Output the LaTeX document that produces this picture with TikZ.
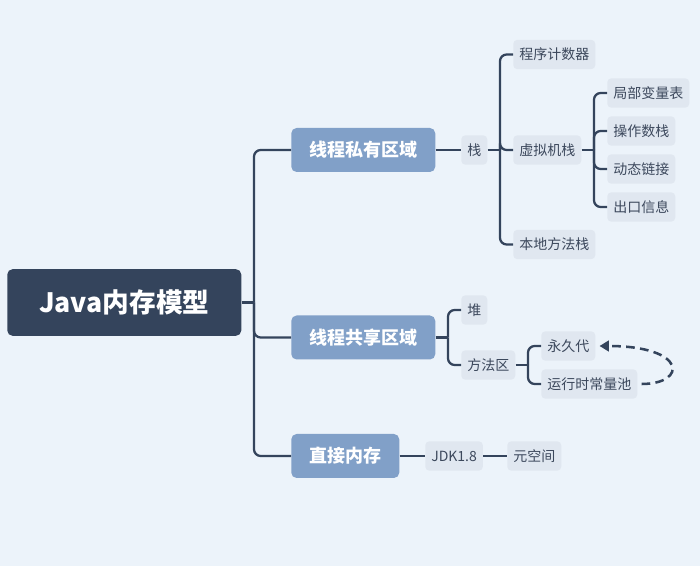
\documentclass[tikz,border=0pt]{standalone}
\usepackage{fontspec}
\setmainfont{Noto Sans CJK SC}
\usetikzlibrary{arrows.meta}

\definecolor{bgblue}{RGB}{236,243,250}
\definecolor{rootblue}{RGB}{52,68,92}
\definecolor{mainblue}{RGB}{129,160,200}
\definecolor{leafgray}{RGB}{224,231,240}
\definecolor{leaftext}{RGB}{60,72,92}

\begin{document}
\begin{tikzpicture}[x=0.75pt,y=0.75pt,yscale=-1,xscale=1,
	rootnode/.style={fill=rootblue,text=white,rounded corners=4pt,font=\fontsize{20}{24}\selectfont\bfseries,minimum height=50pt,minimum width=175.5pt},
	mainnode/.style={fill=mainblue,text=white,rounded corners=4pt,font=\fontsize{13.5}{16}\selectfont\bfseries,minimum height=33pt,inner xsep=13.5pt},
	leafnode/.style={fill=leafgray,text=leaftext,rounded corners=3pt,font=\fontsize{10.5}{12}\selectfont,minimum height=22pt,inner xsep=4.5pt},
	link/.style={draw=rootblue,line width=1.7pt,rounded corners=5pt},
	backlink/.style={draw=rootblue,line width=1.9pt,dash pattern=on 6.5pt off 4pt,-{Triangle[length=7pt,width=8pt]}}]
	%set diagram size 700 x 566
	\fill [bgblue] (0,0) rectangle (700,566);
	\useasboundingbox (0,0) rectangle (700,566);
	
	% Root
	\node [rootnode,anchor=west] (jmm) at (7,302.5) {Java内存模型};
	% Main branches
	\node [mainnode,anchor=west] (private) at (291,150) {线程私有区域};
	\node [mainnode,anchor=west] (shared) at (291,337.5) {线程共享区域};
	\node [mainnode,anchor=west] (direct) at (291,456) {直接内存};
	% Private area
	\node [leafnode,anchor=west] (stack) at (461,150) {栈};
	\node [leafnode,anchor=west] (pc) at (513,54.5) {程序计数器};
	\node [leafnode,anchor=west] (vmstack) at (513,150) {虚拟机栈};
	\node [leafnode,anchor=west] (native) at (513,244.5) {本地方法栈};
	\node [leafnode,anchor=west] (locals) at (607,93) {局部变量表};
	\node [leafnode,anchor=west] (operand) at (607,131) {操作数栈};
	\node [leafnode,anchor=west] (dynlink) at (607,169) {动态链接};
	\node [leafnode,anchor=west] (exit) at (607,207) {出口信息};
	% Shared area
	\node [leafnode,anchor=west] (heap) at (461,310) {堆};
	\node [leafnode,anchor=west] (method) at (461,365) {方法区};
	\node [leafnode,anchor=west] (permgen) at (541,346) {永久代};
	\node [leafnode,anchor=west] (pool) at (541,384) {运行时常量池};
	% Direct memory
	\node [leafnode,anchor=west] (jdk) at (425,456) {JDK1.8};
	\node [leafnode,anchor=west] (meta) at (507,456) {元空间};
	
	% Forks
	\coordinate (jmmfork) at (254,302.5);
	\coordinate (stackfork) at (500,150);
	\coordinate (vmfork) at (594,150);
	\coordinate (sharedfork) at (448,337.5);
	\coordinate (methodfork) at (528,365);
	
	% Connectors
	\draw [link] (jmm.east) -- (jmmfork);
	\draw [link] (jmmfork) |- (private.west);
	\draw [link] (jmmfork) |- (shared.west);
	\draw [link] (jmmfork) |- (direct.west);
	
	\draw [link] (private.east) -- (stack.west);
	\draw [link] (stack.east) -- (stackfork);
	\draw [link] (stackfork) |- (pc.west);
	\draw [link] (stackfork) |- (vmstack.west);
	\draw [link] (stackfork) |- (native.west);
	\draw [link] (vmstack.east) -- (vmfork);
	\draw [link] (vmfork) |- (locals.west);
	\draw [link] (vmfork) |- (operand.west);
	\draw [link] (vmfork) |- (dynlink.west);
	\draw [link] (vmfork) |- (exit.west);
	
	\draw [link] (shared.east) -- (sharedfork);
	\draw [link] (sharedfork) |- (heap.west);
	\draw [link] (sharedfork) |- (method.west);
	\draw [link] (method.east) -- (methodfork);
	\draw [link] (methodfork) |- (permgen.west);
	\draw [link] (methodfork) |- (pool.west);
	
	\draw [link] (direct.east) -- (jdk.west);
	\draw [link] (jdk.east) -- (meta.west);
	
	% Dashed back link
	\draw [backlink] ([xshift=3pt]pool.east) .. controls +(46,0) and +(88,0) .. ([xshift=3pt]permgen.east);
\end{tikzpicture}
\end{document}
